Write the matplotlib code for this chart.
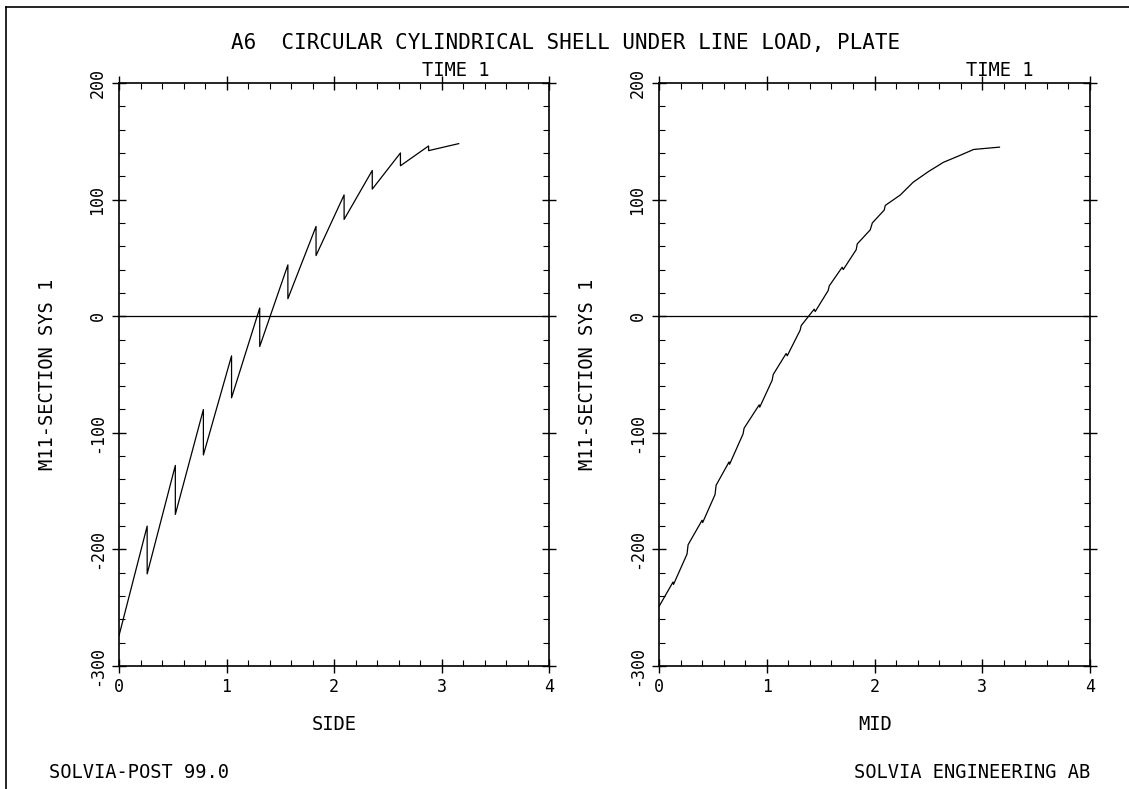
import numpy as np
import matplotlib
matplotlib.use("Agg")
import matplotlib.pyplot as plt
from matplotlib.lines import Line2D
from matplotlib.ticker import MultipleLocator

# left plot: M11 along SIDE (jumps at element boundaries)
side_x = [0.0, 0.262, 0.262, 0.524, 0.524, 0.785, 0.785, 1.047, 1.047, 1.309, 1.309,
          1.571, 1.571, 1.833, 1.833, 2.094, 2.094, 2.356, 2.356, 2.618, 2.618,
          2.880, 2.880, 3.16]
side_m = [-274, -180, -221, -128, -170, -80, -119, -34, -70, 7, -26,
          44, 15, 77, 52, 104, 83, 125, 109, 140, 129,
          146, 142, 148]

# right plot: M11 along MID
mid_x = [0.0, 0.13, 0.135, 0.26, 0.27, 0.40, 0.405, 0.52, 0.53, 0.65, 0.655, 0.78, 0.79,
         0.93, 0.935, 1.05, 1.06, 1.18, 1.19, 1.31, 1.32, 1.44, 1.45, 1.57, 1.58,
         1.70, 1.71, 1.83, 1.84, 1.96, 1.98, 2.09, 2.10, 2.24, 2.36, 2.50, 2.64,
         2.77, 2.92, 3.16]
mid_m = [-249, -228, -230, -204, -196, -175, -177, -153, -145, -125, -127, -101, -96,
         -76, -78, -55, -50, -32, -34, -12, -8, 6, 4, 22, 26,
         42, 40, 57, 62, 74, 80, 91, 95, 104, 115, 124, 132,
         137, 143, 145]

font = 'DejaVu Sans Mono'
plt.rcParams['font.family'] = font
plt.rcParams['axes.unicode_minus'] = False

fig = plt.figure(figsize=(11.29, 7.89), dpi=100)
ax1 = fig.add_axes([119 / 1129, 1 - 666 / 789, 430 / 1129, 583 / 789])
ax2 = fig.add_axes([659 / 1129, 1 - 666 / 789, 431 / 1129, 583 / 789])

for ax, x, y in [(ax1, side_x, side_m), (ax2, mid_x, mid_m)]:
    ax.plot(x, y, color='black', lw=0.9)
    ax.axhline(0, color='black', lw=0.9)
    ax.set_xlim(0, 4)
    ax.set_ylim(-300, 200)
    ax.xaxis.set_major_locator(MultipleLocator(1))
    ax.xaxis.set_minor_locator(MultipleLocator(0.2))
    ax.yaxis.set_major_locator(MultipleLocator(100))
    ax.yaxis.set_minor_locator(MultipleLocator(20))
    ax.tick_params(which='major', direction='inout', length=10, width=1.0,
                   top=True, right=True, labelsize=12, pad=4)
    ax.tick_params(which='minor', direction='in', length=4, width=0.8,
                   top=True, right=True)
    for lab in ax.get_yticklabels():
        lab.set_rotation(90)
        lab.set_va('center')
    for s in ax.spines.values():
        s.set_linewidth(1.2)
    ax.set_ylabel('M11-SECTION SYS 1', fontsize=13.5)
    ax.yaxis.set_label_coords(-0.144, 0.5)

fig.text(0.501, 1 - 43 / 789, 'A6  CIRCULAR CYLINDRICAL SHELL UNDER LINE LOAD, PLATE',
         ha='center', va='center', fontsize=15)
fig.text(490 / 1129, 1 - 70 / 789, 'TIME 1', ha='right', va='center', fontsize=13.5)
fig.text(1033 / 1129, 1 - 70 / 789, 'TIME 1', ha='right', va='center', fontsize=13.5)
fig.text(334 / 1129, 1 - 724 / 789, 'SIDE', ha='center', va='center', fontsize=13.5)
fig.text(875 / 1129, 1 - 724 / 789, 'MID', ha='center', va='center', fontsize=13.5)
fig.text(49 / 1129, 1 - 772 / 789, 'SOLVIA-POST 99.0', ha='left', va='center', fontsize=13.5)
fig.text(1090 / 1129, 1 - 772 / 789, 'SOLVIA ENGINEERING AB', ha='right', va='center', fontsize=13.5)

# outer frame (top and left edges)
fig.add_artist(Line2D([6 / 1129, 1.0], [1 - 7 / 789, 1 - 7 / 789], color='black', lw=1.2))
fig.add_artist(Line2D([6 / 1129, 6 / 1129], [0, 1 - 7 / 789], color='black', lw=1.2))

fig.savefig('out.png', dpi=100)
